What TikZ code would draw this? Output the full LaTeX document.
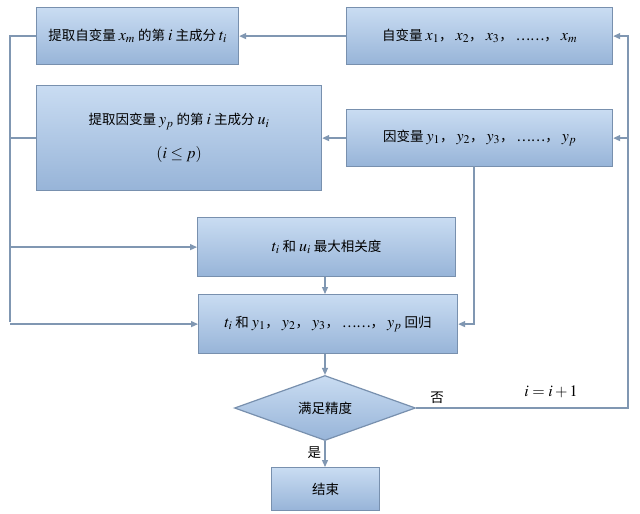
\documentclass[tikz,border=0pt]{standalone}
\usepackage{mathptmx}
\usepackage{fontspec}
\setmainfont{Liberation Serif}
\newfontfamily\cjk{Noto Sans CJK SC}
\usetikzlibrary{shapes.geometric,arrows.meta}
\definecolor{lc}{HTML}{8097B2}
\definecolor{bd}{HTML}{7890AE}
\definecolor{ftop}{HTML}{C9DCF2}
\definecolor{fbot}{HTML}{97B4D8}
\tikzset{
 box/.style={draw=bd,line width=1.2pt,top color=ftop,bottom color=fbot,font=\cjk\fontsize{13.5}{16}\selectfont,inner sep=0pt,anchor=north west},
 conn/.style={draw=lc,line width=1.3pt},
 arr/.style={conn,-{Triangle[length=7pt,width=6pt]}},
}
\newcommand{\mm}[1]{{\fontsize{16}{18}\selectfont$#1$}}
\begin{document}
\begin{tikzpicture}[x=1pt,y=-1pt]
\useasboundingbox (0,0) rectangle (640,514);
\fill[white] (0,0) rectangle (640,514);
\node[box,minimum width=202pt,minimum height=57pt] (A) at (36,7) {提取自变量 \mm{x_m} 的第 \mm{i} 主成分 \mm{t_i}};
\node[box,minimum width=266pt,minimum height=57pt] (B) at (346,7) {自变量 \mm{x_1}， \mm{x_2}， \mm{x_3}， ……， \mm{x_m}};
\node[box,minimum width=285pt,minimum height=105pt,align=center] (C) at (36,85) {提取因变量 \mm{y_p} 的第 \mm{i} 主成分 \mm{u_i}\\[16pt] \mm{(i\le p)}};
\node[box,minimum width=266pt,minimum height=57pt] (D) at (346,109) {因变量 \mm{y_1}， \mm{y_2}， \mm{y_3}， ……， \mm{y_p}};
\node[box,minimum width=258pt,minimum height=59pt] (E) at (197,217) {\mm{t_i} 和 \mm{u_i} 最大相关度};
\node[box,minimum width=259pt,minimum height=59pt] (F) at (198,294) {\mm{t_i} 和 \mm{y_1}， \mm{y_2}， \mm{y_3}， ……， \mm{y_p} 回归};
\node[diamond,draw=bd,line width=1.2pt,top color=ftop,bottom color=fbot,font=\cjk\fontsize{13.5}{16}\selectfont,minimum width=181pt,minimum height=65pt,inner sep=0pt,aspect=2.8] (G) at (325,408) {满足精度};
\node[box,minimum width=108pt,minimum height=43pt] (H) at (271,467) {结束};
\coordinate (L2) at (10,322);
\coordinate (R2) at (628,35);
\draw[conn] (A.west) -| (L2);
\draw[arr] (B.west) -- (A.east);
\draw[arr] (D.west) -- (D.west -| C.east);
\draw[conn] (C.west) -- (C.west -| L2);
\draw[arr] (E.west -| L2) -- (E.west);
\draw[arr] (F.west -| L2) -- (F.west);
\draw[conn] (G.east) -| (R2);
\draw[arr] (B.east -| R2) -- (B.east);
\draw[arr] (D.east -| R2) -- (D.east);
\draw[arr] (474,166) |- (F.east);
\draw[arr] (E.south -| G.north) -- (F.north -| G.north);
\draw[arr] (F.south -| G.north) -- (G.north);
\draw[arr] (G.south) -- (H.north -| G.south) node[pos=0.45,left,font=\cjk\fontsize{13.5}{16}\selectfont] (yes) {是};
\node[font=\cjk\fontsize{13.5}{16}\selectfont] (no) at (437,398) {否};
\node (inc) at (551,392) {\mm{i=i+1}};
\end{tikzpicture}
\end{document}
